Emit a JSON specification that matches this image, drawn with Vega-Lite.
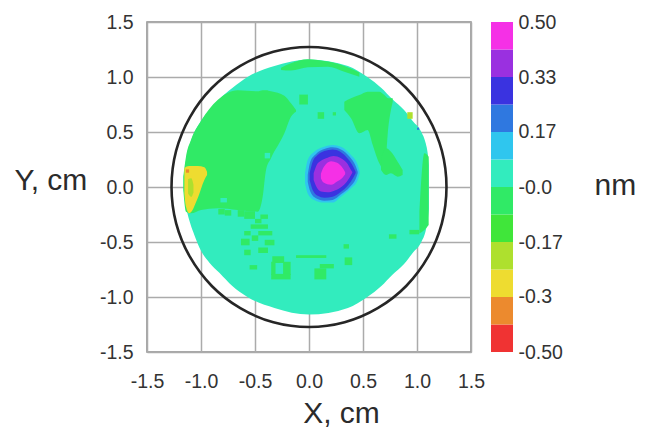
{"$schema":"https://vega.github.io/schema/vega-lite/v6.json","background":"white","padding":{"left":13,"top":11,"right":5,"bottom":5},"spacing":5,
"config":{"font":"Liberation Sans","axis":{"labelFont":"Liberation Sans","titleFont":"Liberation Sans","labelFontSize":19.5,"titleFontSize":30,"labelColor":"#333333","titleColor":"#2b2b2b","titleFontWeight":"normal","ticks":false,"domain":false,"gridColor":"#ababab","gridWidth":1.5,"labelPadding":14}},
"datasets":{
"regions":[
{"region":"disc","level":"0.00","x":-1.16,"y":-0.03,"y2":0.1},{"region":"disc","level":"0.00","x":-1.145,"y":-0.15,"y2":0.2},{"region":"disc","level":"0.00","x":-1.13,"y":-0.22,"y2":0.3},{"region":"disc","level":"0.00","x":-1.1,"y":-0.33,"y2":0.4},{"region":"disc","level":"0.00","x":-1.06,"y":-0.44,"y2":0.5},{"region":"disc","level":"0.00","x":-1.0,"y":-0.58,"y2":0.6},{"region":"disc","level":"0.00","x":-0.92,"y":-0.69,"y2":0.7},{"region":"disc","level":"0.00","x":-0.83,"y":-0.78,"y2":0.8},{"region":"disc","level":"0.00","x":-0.71,"y":-0.9,"y2":0.9},{"region":"disc","level":"0.00","x":-0.57,"y":-1.0,"y2":1.0},{"region":"disc","level":"0.00","x":-0.32,"y":-1.1,"y2":1.1},{"region":"disc","level":"0.00","x":0.0,"y":-1.16,"y2":1.16},{"region":"disc","level":"0.00","x":0.36,"y":-1.1,"y2":1.1},{"region":"disc","level":"0.00","x":0.54,"y":-1.0,"y2":1.0},{"region":"disc","level":"0.00","x":0.67,"y":-0.9,"y2":0.9},{"region":"disc","level":"0.00","x":0.77,"y":-0.8,"y2":0.8},{"region":"disc","level":"0.00","x":0.88,"y":-0.7,"y2":0.7},{"region":"disc","level":"0.00","x":0.96,"y":-0.6,"y2":0.6},{"region":"disc","level":"0.00","x":1.04,"y":-0.5,"y2":0.5},{"region":"disc","level":"0.00","x":1.08,"y":-0.4,"y2":0.4},{"region":"disc","level":"0.00","x":1.1,"y":-0.3,"y2":0.3},{"region":"disc","level":"0.00","x":1.11,"y":-0.2,"y2":0.2},
{"region":"leftgreen","level":"-0.08","x":-1.164,"y":-0.027,"y2":0.094},{"region":"leftgreen","level":"-0.08","x":-1.139,"y":-0.224,"y2":0.276},{"region":"leftgreen","level":"-0.08","x":-1.093,"y":-0.239,"y2":0.427},{"region":"leftgreen","level":"-0.08","x":-1.0,"y":-0.209,"y2":0.6},{"region":"leftgreen","level":"-0.08","x":-0.846,"y":-0.194,"y2":0.79},{"region":"leftgreen","level":"-0.08","x":-0.66,"y":-0.209,"y2":0.88},{"region":"leftgreen","level":"-0.08","x":-0.475,"y":-0.224,"y2":0.87},{"region":"leftgreen","level":"-0.08","x":-0.429,"y":-0.088,"y2":0.88},{"region":"leftgreen","level":"-0.08","x":-0.398,"y":0.155,"y2":0.88},{"region":"leftgreen","level":"-0.08","x":-0.352,"y":0.261,"y2":0.87},{"region":"leftgreen","level":"-0.08","x":-0.228,"y":0.488,"y2":0.83},{"region":"leftgreen","level":"-0.08","x":-0.167,"y":0.639,"y2":0.761},{"region":"leftgreen","level":"-0.08","x":-0.12,"y":0.685,"y2":0.7},
{"region":"rightgreen","level":"-0.08","x":0.327,"y":0.7,"y2":0.776},{"region":"rightgreen","level":"-0.08","x":0.389,"y":0.624,"y2":0.806},{"region":"rightgreen","level":"-0.08","x":0.466,"y":0.488,"y2":0.836},{"region":"rightgreen","level":"-0.08","x":0.543,"y":0.518,"y2":0.867},{"region":"rightgreen","level":"-0.08","x":0.59,"y":0.382,"y2":0.867},{"region":"rightgreen","level":"-0.08","x":0.651,"y":0.215,"y2":0.867},{"region":"rightgreen","level":"-0.08","x":0.698,"y":0.155,"y2":0.836},{"region":"rightgreen","level":"-0.08","x":0.735,"y":0.548,"y2":0.806},{"region":"rightgreen","level":"-0.08","x":0.775,"y":0.776,"y2":0.806},
{"region":"rightblob","level":"-0.08","x":0.667,"y":0.155,"y2":0.261},{"region":"rightblob","level":"-0.08","x":0.713,"y":0.109,"y2":0.352},{"region":"rightblob","level":"-0.08","x":0.759,"y":0.124,"y2":0.321},{"region":"rightblob","level":"-0.08","x":0.821,"y":0.094,"y2":0.23},{"region":"rightblob","level":"-0.08","x":0.867,"y":0.109,"y2":0.155},
{"region":"topstrip","level":"-0.08","x":-0.259,"y":1.064,"y2":1.085},{"region":"topstrip","level":"-0.08","x":-0.167,"y":1.058,"y2":1.124},{"region":"topstrip","level":"-0.08","x":-0.012,"y":1.088,"y2":1.161},{"region":"topstrip","level":"-0.08","x":0.173,"y":1.094,"y2":1.14},{"region":"topstrip","level":"-0.08","x":0.327,"y":1.048,"y2":1.1},{"region":"topstrip","level":"-0.08","x":0.466,"y":1.003,"y2":1.04},
{"region":"rim","level":"-0.08","x":1.022,"y":-0.42,"y2":-0.224},{"region":"rim","level":"-0.08","x":1.068,"y":-0.39,"y2":0.306},{"region":"rim","level":"-0.08","x":1.108,"y":-0.345,"y2":0.276},
{"region":"yellow","level":"-0.33","x":-1.154,"y":-0.058,"y2":0.17},{"region":"yellow","level":"-0.33","x":-1.139,"y":-0.179,"y2":0.185},{"region":"yellow","level":"-0.33","x":-1.108,"y":-0.239,"y2":0.191},{"region":"yellow","level":"-0.33","x":-1.031,"y":-0.103,"y2":0.191},{"region":"yellow","level":"-0.33","x":-0.969,"y":0.064,"y2":0.179},{"region":"yellow","level":"-0.33","x":-0.944,"y":0.109,"y2":0.139},
{"region":"lime","level":"-0.25","x":-1.12,"y":-0.06,"y2":0.07},{"region":"lime","level":"-0.25","x":-1.09,"y":-0.09,"y2":0.08},{"region":"lime","level":"-0.25","x":-1.07,"y":-0.05,"y2":0.02},
{"region":"spot1","level":"0.08","x":-0.037,"y":0.033,"y2":0.124},{"region":"spot1","level":"0.08","x":-0.012,"y":-0.058,"y2":0.245},{"region":"spot1","level":"0.08","x":0.049,"y":-0.118,"y2":0.321},{"region":"spot1","level":"0.08","x":0.142,"y":-0.142,"y2":0.367},{"region":"spot1","level":"0.08","x":0.219,"y":-0.142,"y2":0.382},{"region":"spot1","level":"0.08","x":0.296,"y":-0.088,"y2":0.367},{"region":"spot1","level":"0.08","x":0.389,"y":-0.012,"y2":0.291},{"region":"spot1","level":"0.08","x":0.451,"y":0.064,"y2":0.2},{"region":"spot1","level":"0.08","x":0.469,"y":0.124,"y2":0.139},
{"region":"spot2","level":"0.17","x":-0.012,"y":0.048,"y2":0.109},{"region":"spot2","level":"0.17","x":0.012,"y":-0.042,"y2":0.23},{"region":"spot2","level":"0.17","x":0.065,"y":-0.103,"y2":0.3},{"region":"spot2","level":"0.17","x":0.142,"y":-0.124,"y2":0.345},{"region":"spot2","level":"0.17","x":0.219,"y":-0.118,"y2":0.361},{"region":"spot2","level":"0.17","x":0.296,"y":-0.067,"y2":0.342},{"region":"spot2","level":"0.17","x":0.38,"y":0.003,"y2":0.27},{"region":"spot2","level":"0.17","x":0.432,"y":0.073,"y2":0.191},{"region":"spot2","level":"0.17","x":0.451,"y":0.124,"y2":0.139},
{"region":"spot3","level":"0.25","x":0.006,"y":0.064,"y2":0.124},{"region":"spot3","level":"0.25","x":0.034,"y":-0.027,"y2":0.23},{"region":"spot3","level":"0.25","x":0.08,"y":-0.079,"y2":0.291},{"region":"spot3","level":"0.25","x":0.142,"y":-0.097,"y2":0.327},{"region":"spot3","level":"0.25","x":0.219,"y":-0.088,"y2":0.342},{"region":"spot3","level":"0.25","x":0.29,"y":-0.048,"y2":0.321},{"region":"spot3","level":"0.25","x":0.364,"y":0.018,"y2":0.252},{"region":"spot3","level":"0.25","x":0.41,"y":0.085,"y2":0.185},{"region":"spot3","level":"0.25","x":0.432,"y":0.124,"y2":0.139},
{"region":"spot4","level":"0.33","x":0.043,"y":0.064,"y2":0.124},{"region":"spot4","level":"0.33","x":0.071,"y":-0.003,"y2":0.2},{"region":"spot4","level":"0.33","x":0.111,"y":-0.042,"y2":0.239},{"region":"spot4","level":"0.33","x":0.173,"y":-0.048,"y2":0.267},{"region":"spot4","level":"0.33","x":0.228,"y":-0.036,"y2":0.282},{"region":"spot4","level":"0.33","x":0.296,"y":-0.003,"y2":0.261},{"region":"spot4","level":"0.33","x":0.358,"y":0.058,"y2":0.209},{"region":"spot4","level":"0.33","x":0.389,"y":0.109,"y2":0.155},{"region":"spot4","level":"0.33","x":0.401,"y":0.13,"y2":0.139},
{"region":"spot5","level":"0.42","x":0.11,"y":0.08,"y2":0.12},{"region":"spot5","level":"0.42","x":0.135,"y":0.04,"y2":0.18},{"region":"spot5","level":"0.42","x":0.204,"y":0.02,"y2":0.235},{"region":"spot5","level":"0.42","x":0.26,"y":0.05,"y2":0.22},{"region":"spot5","level":"0.42","x":0.31,"y":0.085,"y2":0.175},{"region":"spot5","level":"0.42","x":0.335,"y":0.115,"y2":0.135}
],
"cells":[
{"level":"-0.08","x":-0.78,"x2":-0.72,"y":-0.26,"y2":-0.21},{"level":"-0.08","x":-0.66,"x2":-0.6,"y":-0.27,"y2":-0.21},{"level":"-0.08","x":-0.5,"x2":-0.44,"y":-0.33,"y2":-0.29},{"level":"-0.08","x":-0.6,"x2":-0.5,"y":-0.29,"y2":-0.22},{"level":"-0.08","x":-0.45,"x2":-0.38,"y":-0.29,"y2":-0.25},{"level":"-0.08","x":-0.54,"x2":-0.38,"y":-0.38,"y2":-0.34},{"level":"-0.08","x":-0.6,"x2":-0.54,"y":-0.44,"y2":-0.4},{"level":"-0.08","x":-0.47,"x2":-0.34,"y":-0.44,"y2":-0.4},{"level":"-0.08","x":-0.63,"x2":-0.55,"y":-0.53,"y2":-0.47},{"level":"-0.08","x":-0.53,"x2":-0.47,"y":-0.49,"y2":-0.44},{"level":"-0.08","x":-0.41,"x2":-0.32,"y":-0.53,"y2":-0.48},{"level":"-0.08","x":-0.6,"x2":-0.54,"y":-0.62,"y2":-0.57},{"level":"-0.08","x":-0.47,"x2":-0.38,"y":-0.6,"y2":-0.55},{"level":"-0.08","x":-0.34,"x2":-0.23,"y":-0.69,"y2":-0.63},{"level":"-0.08","x":-0.55,"x2":-0.48,"y":-0.75,"y2":-0.71},{"level":"-0.08","x":-0.35,"x2":-0.31,"y":-0.8,"y2":-0.68},{"level":"-0.08","x":-0.24,"x2":-0.17,"y":-0.8,"y2":-0.68},{"level":"-0.08","x":-0.35,"x2":-0.17,"y":-0.84,"y2":-0.79},{"level":"-0.08","x":-0.12,"x2":0.16,"y":-0.645,"y2":-0.62},{"level":"-0.08","x":0.1,"x2":0.23,"y":-0.74,"y2":-0.7},{"level":"-0.08","x":0.05,"x2":0.16,"y":-0.84,"y2":-0.74},{"level":"-0.08","x":0.33,"x2":0.4,"y":-0.71,"y2":-0.64},{"level":"-0.08","x":0.32,"x2":0.37,"y":-0.56,"y2":-0.52},{"level":"-0.08","x":0.74,"x2":0.81,"y":-0.47,"y2":-0.43},{"level":"-0.08","x":0.93,"x2":1.02,"y":-0.43,"y2":-0.39},{"level":"-0.08","x":-0.09,"x2":-0.01,"y":0.75,"y2":0.84},{"level":"-0.08","x":0.08,"x2":0.14,"y":0.62,"y2":0.68},{"level":"-0.08","x":0.22,"x2":0.25,"y":0.65,"y2":0.68},{"level":"-0.08","x":-0.84,"x2":-0.78,"y":-0.25,"y2":-0.2},
{"level":"0.00","x":-0.41,"x2":-0.36,"y":0.26,"y2":0.31},{"level":"0.00","x":-0.82,"x2":-0.76,"y":-0.14,"y2":-0.1},
{"level":"-0.25","x":0.91,"x2":0.96,"y":0.62,"y2":0.68},{"level":"0.17","x":1.0,"x2":1.02,"y":0.52,"y2":0.54},{"level":"-0.42","x":-1.14,"x2":-1.11,"y":0.13,"y2":0.16}
],
"circle":[
{"i":0,"x":1.273,"y":0},{"i":1,"x":1.23,"y":0.33},{"i":2,"x":1.102,"y":0.636},{"i":3,"x":0.9,"y":0.9},{"i":4,"x":0.636,"y":1.102},{"i":5,"x":0.33,"y":1.23},{"i":6,"x":0,"y":1.273},{"i":7,"x":-0.33,"y":1.23},{"i":8,"x":-0.636,"y":1.102},{"i":9,"x":-0.9,"y":0.9},{"i":10,"x":-1.102,"y":0.636},{"i":11,"x":-1.23,"y":0.33},{"i":12,"x":-1.273,"y":0},{"i":13,"x":-1.23,"y":-0.33},{"i":14,"x":-1.102,"y":-0.636},{"i":15,"x":-0.9,"y":-0.9},{"i":16,"x":-0.636,"y":-1.102},{"i":17,"x":-0.33,"y":-1.23},{"i":18,"x":0,"y":-1.273},{"i":19,"x":0.33,"y":-1.23},{"i":20,"x":0.636,"y":-1.102},{"i":21,"x":0.9,"y":-0.9},{"i":22,"x":1.102,"y":-0.636},{"i":23,"x":1.23,"y":-0.33}
],
"bar":[
{"level":"-0.50","y0":-0.5,"y1":-0.4167},{"level":"-0.42","y0":-0.4167,"y1":-0.3333},{"level":"-0.33","y0":-0.3333,"y1":-0.25},{"level":"-0.25","y0":-0.25,"y1":-0.1667},{"level":"-0.17","y0":-0.1667,"y1":-0.0833},{"level":"-0.08","y0":-0.0833,"y1":0},{"level":"0.00","y0":0,"y1":0.0833},{"level":"0.08","y0":0.0833,"y1":0.1667},{"level":"0.17","y0":0.1667,"y1":0.25},{"level":"0.25","y0":0.25,"y1":0.3333},{"level":"0.33","y0":0.3333,"y1":0.4167},{"level":"0.42","y0":0.4167,"y1":0.5}
]},
"hconcat":[
{"width":324,"height":330,"view":{"stroke":"#8a8a8a","strokeWidth":1.5},
"encoding":{
"x":{"field":"x","type":"quantitative","scale":{"domain":[-1.5,1.5],"nice":false,"zero":false},"axis":{"title":"X, cm","values":[-1.5,-1,-0.5,0,0.5,1,1.5],"labelExpr":"replace(format(datum.value,'.1f'),'\u2212','-')","grid":true,"titleX":194,"titleY":70,"titleBaseline":"alphabetic","labelFlush":false,"labelPadding":20}},
"y":{"field":"y","type":"quantitative","scale":{"domain":[-1.5,1.5],"nice":false,"zero":false},"axis":{"title":"Y, cm","values":[-1.5,-1,-0.5,0,0.5,1,1.5],"labelExpr":"replace(format(datum.value,'.1f'),'\u2212','-')","grid":true,"titleAngle":0,"titleAlign":"left","titleBaseline":"middle","titleX":-133,"titleY":158,"labelFlush":false}}},
"layer":[
{"data":{"name":"regions"},"mark":{"type":"area","interpolate":"monotone"},
"encoding":{
"y2":{"field":"y2"},
"detail":{"field":"region"},
"color":{"field":"level","type":"nominal","legend":null,"scale":{"domain":["-0.50","-0.42","-0.33","-0.25","-0.17","-0.08","0.00","0.08","0.17","0.25","0.33","0.42"],"range":["#f03333","#ec8a2e","#eedc30","#aee02e","#40e63a","#30ea66","#32ecbe","#2fc6ee","#2f78e0","#3a33e0","#9a30e0","#f530e6"]}}}},
{"data":{"name":"cells"},"mark":{"type":"rect"},
"encoding":{"x2":{"field":"x2"},"y2":{"field":"y2"},"color":{"field":"level","type":"nominal","legend":null}}},
{"data":{"name":"circle"},"mark":{"type":"line","interpolate":"cardinal-closed","color":"#262626","strokeWidth":2.6},
"encoding":{"order":{"field":"i","type":"quantitative"}}}
]},
{"width":22,"height":330,"view":{"stroke":null},"data":{"name":"bar"},"mark":{"type":"rect"},
"encoding":{
"y":{"field":"y0","type":"quantitative","scale":{"domain":[-0.5,0.5],"nice":false,"zero":false},"axis":{"orient":"right","grid":false,"values":[-0.5,-0.3333,-0.1667,0,0.1667,0.3333,0.5],"labelExpr":"datum.value==0?'-0.0':datum.value==-0.3333?'-0.3':replace(format(datum.value,'.2f'),'\u2212','-')","labelPadding":5,"labelFlush":false,"title":"nm","titleAngle":0,"titleAlign":"left","titleBaseline":"middle","titleX":81,"titleY":163}},
"y2":{"field":"y1"},
"color":{"field":"level","type":"nominal","legend":null}}}
]}
